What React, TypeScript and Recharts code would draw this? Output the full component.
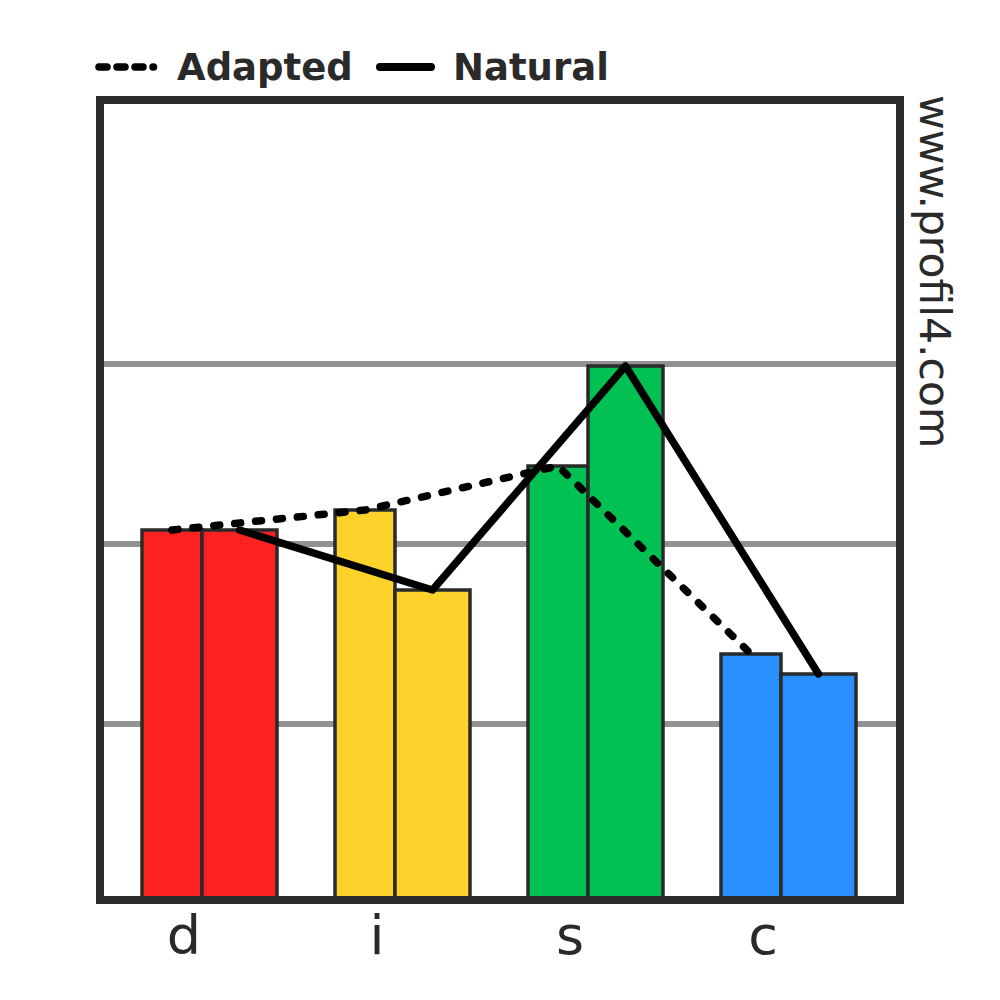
import {
  ComposedChart,
  Bar,
  Line,
  XAxis,
  YAxis,
  CartesianGrid,
  ReferenceArea,
  Legend,
  Cell,
  Customized,
} from 'recharts';

const categories = ['d', 'i', 's', 'c'];
const adaptedValues = [46.25, 48.75, 54.25, 30.75];
const naturalValues = [46.25, 38.75, 66.75, 28.25];
const gridValues = [22, 44.5, 67];
const barColors = ['#fe2121', '#fdd22b', '#00c152', '#2a90ff'];
const seriesNames = ['Adapted', 'Natural'];

const data = categories.map((cat, i) => ({
  cat,
  adapted: adaptedValues[i],
  natural: naturalValues[i],
}));

const INK = '#2a2a2a';
const FONT = '"DejaVu Sans", sans-serif';

function CategoryTick({ x, y, payload }: any) {
  return (
    <text x={x - 25.5} y={y} dy={46} textAnchor="middle" fontSize={54} fill={INK} fontFamily={FONT}>
      {payload.value}
    </text>
  );
}

function LegendContent() {
  return (
    <svg width={700} height={60}>
      <line x1={99} y1={27} x2={153.5} y2={27} stroke="#000" strokeWidth={7.5} strokeLinecap="round" strokeDasharray="8 10" />
      <text x={177} y={40} fontSize={37} fontWeight="bold" fill={INK} fontFamily={FONT}>
        {seriesNames[0]}
      </text>
      <line x1={380} y1={27} x2={431} y2={27} stroke="#000" strokeWidth={8} strokeLinecap="round" />
      <text x={453} y={40} fontSize={37} fontWeight="bold" fill={INK} fontFamily={FONT}>
        {seriesNames[1]}
      </text>
    </svg>
  );
}

function Watermark() {
  return (
    <text x={920} y={95} transform="rotate(90, 920, 95)" fontSize={42.5} fill={INK} fontFamily={FONT}>
      www.profil4.com
    </text>
  );
}

export default function App() {
  return (
    <div style={{ position: 'absolute', left: 0, top: 0, width: 1000, height: 1000, background: '#fff' }}>
      <ComposedChart
        width={1000}
        height={1000}
        data={data}
        barGap={0}
        margin={{ top: 100, right: 100, bottom: 40, left: 100 }}
      >
        <CartesianGrid vertical={false} horizontalValues={gridValues} stroke="#929292" strokeWidth={6} />
        <XAxis
          dataKey="cat"
          height={60}
          padding={{ left: 13, right: 15 }}
          axisLine={false}
          tickLine={false}
          tick={<CategoryTick />}
          interval={0}
        />
        <XAxis xAxisId="adapted" dataKey="cat" hide padding={{ left: -24.5, right: 52.5 }} />
        <XAxis xAxisId="natural" dataKey="cat" hide padding={{ left: 43, right: -15 }} />
        <XAxis xAxisId="frame" type="number" dataKey={() => 0.5} hide domain={[0, 1]} allowDataOverflow />
        <YAxis hide domain={[0, 100]} allowDataOverflow />
        <Bar dataKey="adapted" barSize={60} stroke={INK} strokeWidth={3.5} isAnimationActive={false}>
          {data.map((_, i) => (
            <Cell key={`a-${i}`} fill={barColors[i]} />
          ))}
        </Bar>
        <Bar dataKey="natural" barSize={75} stroke={INK} strokeWidth={3.5} isAnimationActive={false}>
          {data.map((_, i) => (
            <Cell key={`n-${i}`} fill={barColors[i]} />
          ))}
        </Bar>
        <Line
          xAxisId="adapted"
          dataKey="adapted"
          type="linear"
          stroke="#000"
          strokeWidth={7.5}
          strokeDasharray="6 15"
          strokeLinecap="round"
          strokeLinejoin="round"
          dot={false}
          activeDot={false}
          isAnimationActive={false}
        />
        <Line
          xAxisId="natural"
          dataKey="natural"
          type="linear"
          stroke="#000"
          strokeWidth={7.5}
          strokeLinecap="round"
          strokeLinejoin="round"
          dot={false}
          activeDot={false}
          isAnimationActive={false}
        />
        <ReferenceArea
          xAxisId="frame"
          x1={0}
          x2={1}
          y1={0}
          y2={100}
          fill="none"
          stroke={INK}
          strokeWidth={8}
          fillOpacity={0}
          ifOverflow="visible"
          zIndex={1000}
        />
        <Legend
          verticalAlign="middle"
          align="center"
          layout="horizontal"
          wrapperStyle={{ top: 40, left: 0, width: 700, height: 60 }}
          content={() => <LegendContent />}
        />
        <Customized component={<Watermark />} />
      </ComposedChart>
    </div>
  );
}
